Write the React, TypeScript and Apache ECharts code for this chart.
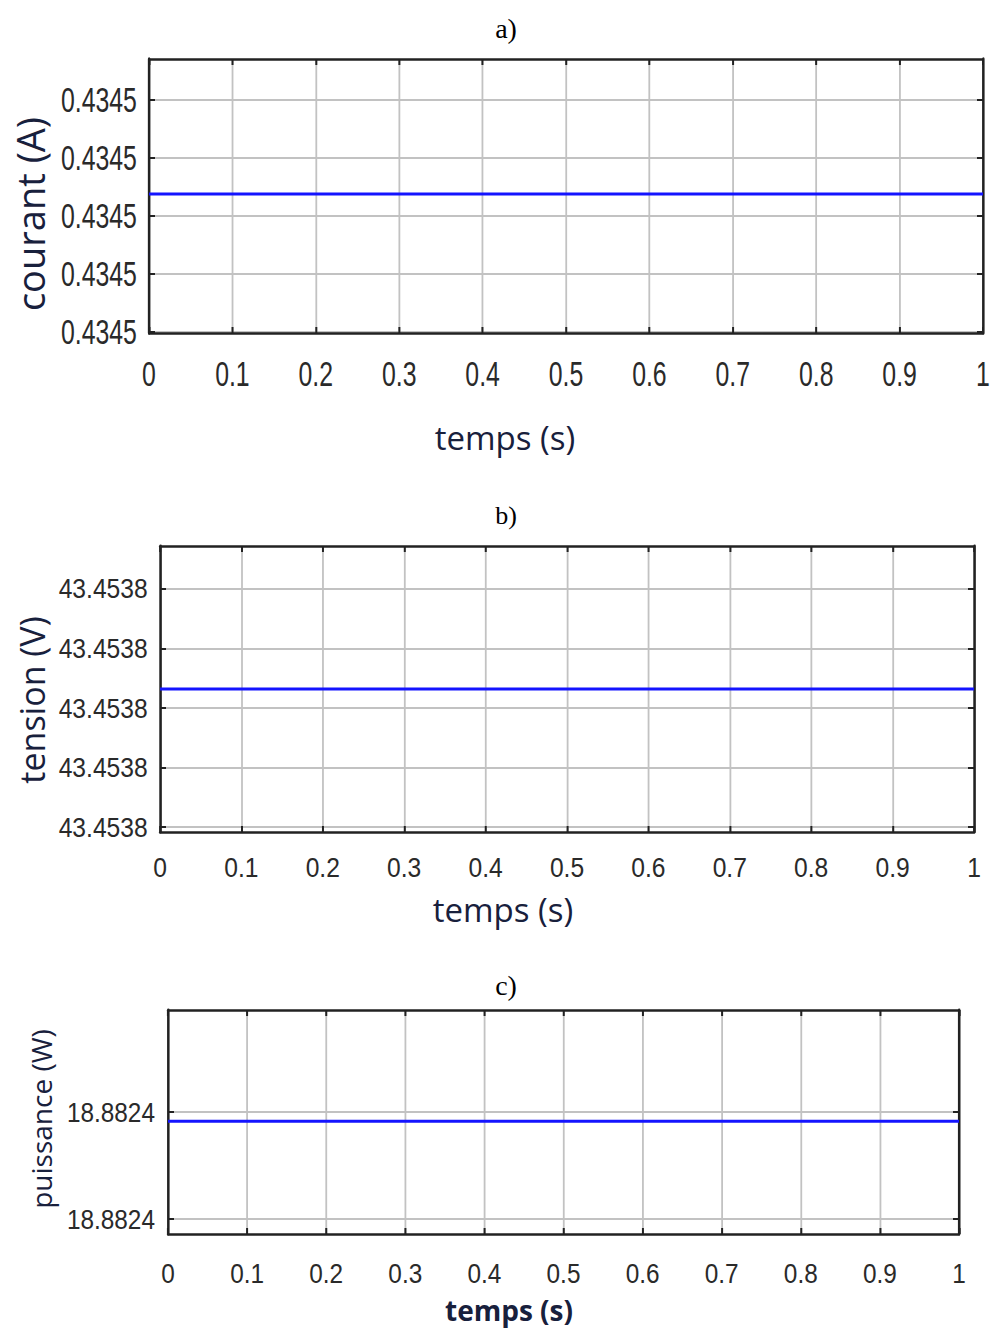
import React, { useEffect, useRef } from "react";
import * as echarts from "echarts";

// Shared time base (s)
const timeRange = [0, 1];
const timeStep = 0.1;
const sampleTimes = [0, 0.25, 0.5, 0.75, 1];

// a) courant (A)
const currentTicks = [0.43449998, 0.43449999, 0.4345, 0.43450001, 0.43450002];
const currentRange = [0.4344999798, 0.4345000271];
const currentValues = [0.4345000038, 0.4345000038, 0.4345000038, 0.4345000038, 0.4345000038];

// b) tension (V)
const voltageTicks = [43.45379996, 43.45379997, 43.45379998, 43.45379999, 43.4538];
const voltageRange = [43.4537999592, 43.4538000072];
const voltageValues = [43.4537999832, 43.4537999832, 43.4537999832, 43.4537999832, 43.4537999832];

// c) puissance (W)
const powerTicks = [18.88239998, 18.8824];
const powerRange = [18.8823999772, 18.8824000191];
const powerValues = [18.8823999983, 18.8823999983, 18.8823999983, 18.8823999983, 18.8823999983];

const PAGE_W = 992;
const PAGE_H = 1329;

type PanelSpec = {
  top: number;
  height: number;
  k: number; // horizontal compression of the plot
  left: number;
  right: number;
  gridTop: number;
  gridBottom: number;
  fontSize: number;
  yLabelGap: number;
  xLabelGap: number;
  yTicks: number[];
  yRange: number[];
  values: number[];
};

const panels: PanelSpec[] = [
  {
    top: 0, height: 470, k: 0.71, left: 149, right: 983, gridTop: 59, gridBottom: 333,
    fontSize: 35, yLabelGap: 17, xLabelGap: 23,
    yTicks: currentTicks, yRange: currentRange, values: currentValues,
  },
  {
    top: 470, height: 480, k: 0.88, left: 160, right: 974, gridTop: 546, gridBottom: 832,
    fontSize: 28, yLabelGap: 14, xLabelGap: 21,
    yTicks: voltageTicks, yRange: voltageRange, values: voltageValues,
  },
  {
    top: 950, height: 379, k: 0.87, left: 168, right: 959, gridTop: 1010, gridBottom: 1234,
    fontSize: 28, yLabelGap: 15, xLabelGap: 25,
    yTicks: powerTicks, yRange: powerRange, values: powerValues,
  },
];

const FRAME = "#222222";
const GRID = "#c2c2c2";
const TICK_TEXT = "#2a2a2a";
const TRACE = "#1414ff";

function Panel({ spec }: { spec: PanelSpec }) {
  const ref = useRef<HTMLDivElement>(null);
  useEffect(() => {
    const chart = echarts.init(ref.current!, null, { renderer: "svg" });
    const k = spec.k;
    const labelFont = {
      color: TICK_TEXT,
      fontFamily: "Liberation Sans, Arial, sans-serif",
      fontSize: spec.fontSize,
    };
    const frameLine = { onZero: false, lineStyle: { color: FRAME, width: 2.5 } };
    const frameLineV = { onZero: false, lineStyle: { color: FRAME, width: 2.5 / k } };
    const xTick = { inside: true, length: 6, lineStyle: { color: FRAME, width: 2 / k } };
    const yTick = {
      inside: true,
      length: 6 / k,
      lineStyle: { color: FRAME, width: 2 },
      customValues: spec.yTicks,
    };
    chart.setOption({
      animation: false,
      grid: {
        left: spec.left / k,
        width: (spec.right - spec.left) / k,
        top: spec.gridTop - spec.top,
        height: spec.gridBottom - spec.gridTop,
        outerBoundsMode: "none",
      },
      xAxis: [
        {
          type: "value",
          position: "bottom",
          min: timeRange[0],
          max: timeRange[1],
          interval: timeStep,
          axisLine: frameLine,
          axisTick: xTick,
          axisLabel: { ...labelFont, margin: spec.xLabelGap },
          splitLine: { show: true, lineStyle: { color: GRID, width: 1.8 / k } },
        },
        {
          type: "value",
          position: "top",
          min: timeRange[0],
          max: timeRange[1],
          interval: timeStep,
          axisLine: frameLine,
          axisTick: xTick,
          axisLabel: { show: false },
          splitLine: { show: false },
        },
      ],
      yAxis: [
        {
          type: "value",
          position: "left",
          min: spec.yRange[0],
          max: spec.yRange[1],
          axisLine: frameLineV,
          axisTick: yTick,
          axisLabel: {
            ...labelFont,
            margin: spec.yLabelGap,
            customValues: spec.yTicks,
            formatter: (v: number) => v.toFixed(4),
          },
          splitLine: { show: true, lineStyle: { color: GRID, width: 1.8 } },
        },
        {
          type: "value",
          position: "right",
          min: spec.yRange[0],
          max: spec.yRange[1],
          axisLine: frameLineV,
          axisTick: yTick,
          axisLabel: { show: false, customValues: spec.yTicks },
          splitLine: { show: false },
        },
      ],
      series: [
        {
          type: "line",
          xAxisIndex: 0,
          yAxisIndex: 0,
          data: sampleTimes.map((t, i) => [t, spec.values[i]]),
          symbol: "none",
          lineStyle: { color: TRACE, width: 3 },
          z: 3,
        },
      ],
    });
    return () => chart.dispose();
  }, [spec]);
  return (
    <div
      ref={ref}
      style={{
        position: "absolute",
        left: 0,
        top: spec.top,
        width: PAGE_W / spec.k,
        height: spec.height,
        transform: `scaleX(${spec.k})`,
        transformOrigin: "0 0",
      }}
    />
  );
}

const captionFont = "Open Sans, Noto Sans, sans-serif";
const captionColor = "#18203c";

function Captions() {
  const ref = useRef<HTMLDivElement>(null);
  useEffect(() => {
    const chart = echarts.init(ref.current!, null, { renderer: "svg" });
    const title = (text: string, x: number, y: number, size: number) => ({
      type: "text",
      x,
      y,
      style: {
        text,
        fill: "#000000",
        fontFamily: "Liberation Serif, Times New Roman, serif",
        fontSize: size,
        align: "center",
        verticalAlign: "middle",
      },
    });
    const label = (text: string, x: number, y: number, size: number, weight = "normal", rot = 0) => ({
      type: "text",
      x,
      y,
      rotation: rot,
      style: {
        text,
        fill: captionColor,
        fontFamily: captionFont,
        fontSize: size,
        fontWeight: weight,
        align: "center",
        verticalAlign: "middle",
      },
    });
    chart.setOption({
      animation: false,
      graphic: [
        title("a)", 506, 28, 28),
        title("b)", 506, 515, 26),
        title("c)", 506, 985, 28),
        label("temps (s)", 505, 437, 33),
        label("temps (s)", 503, 909, 33),
        label("temps (s)", 509, 1310, 28, "bold"),
        label("courant (A)", 30, 214, 38, "normal", Math.PI / 2),
        label("tension (V)", 32, 700, 34, "normal", Math.PI / 2),
        label("puissance (W)", 41, 1119, 28, "normal", Math.PI / 2),
      ],
    });
    return () => chart.dispose();
  }, []);
  return (
    <div
      ref={ref}
      style={{ position: "absolute", left: 0, top: 0, width: PAGE_W, height: PAGE_H, pointerEvents: "none" }}
    />
  );
}

export default function App() {
  return (
    <div
      style={{
        position: "absolute",
        left: 0,
        top: 0,
        width: PAGE_W,
        height: PAGE_H,
        background: "#ffffff",
        overflow: "hidden",
      }}
    >
      {panels.map((p, i) => (
        <Panel key={i} spec={p} />
      ))}
      <Captions />
    </div>
  );
}
